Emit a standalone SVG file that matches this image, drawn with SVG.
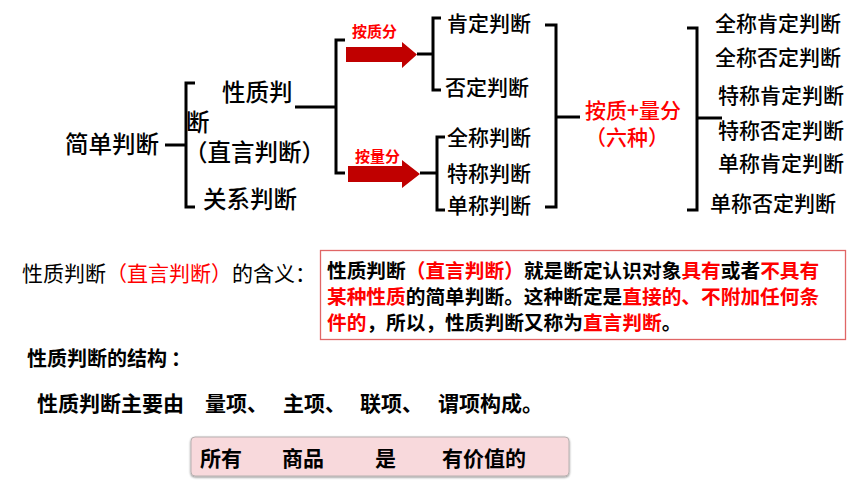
<svg xmlns="http://www.w3.org/2000/svg" width="860" height="484" viewBox="0 0 860 484">
<defs>
<style>
text{font-family:"Noto Sans CJK SC","Noto Sans",sans-serif;fill:#000}
.t{font-size:23.5px;font-weight:500}
.m{font-size:21px;font-weight:500}
.red{fill:#ff0000}
.b{font-weight:bold}
.lbl{font-size:15px;font-weight:bold;fill:#ff0000}
.ln{fill:none;stroke:#000;stroke-width:3;stroke-linecap:butt}
.arr{fill:#c00000}
</style>
<filter id="sh" x="-5%" y="-20%" width="110%" height="140%">
<feDropShadow dx="0" dy="1" stdDeviation="1" flood-color="#000" flood-opacity="0.45"/>
</filter>
</defs>
<rect width="860" height="484" fill="#fff"/>

<g id="connectors">
<line class="ln" x1="165" y1="145" x2="186" y2="145"/>
<path class="ln" d="M195,83 H186 V207 H195"/>
<line class="ln" x1="295" y1="107" x2="336" y2="107"/>
<path class="ln" d="M345,40 H336 V173 H345"/>
<polygon class="arr" points="346,47 402,47 402,42 417,54.5 402,68 402,62 346,62"/>
<polygon class="arr" points="348,166 402,166 402,160 420,174 402,188 402,182 348,182"/>
<line class="ln" x1="417" y1="54" x2="433" y2="54"/>
<path class="ln" d="M441,18 H433 V90 H441"/>
<line class="ln" x1="420" y1="173" x2="437" y2="173"/>
<path class="ln" d="M445,137 H437 V210 H445"/>
<path class="ln" d="M545,25 H556 V207 H545"/>
<line class="ln" x1="556" y1="117" x2="580" y2="117"/>
<path class="ln" d="M687,28 H697 V210 H687"/>
<line class="ln" x1="697" y1="118" x2="722" y2="118"/>
</g>

<g id="n-simple"><text class="t" x="65" y="153">简单判断</text></g>
<g id="n-property">
<text class="t" x="222" y="101">性质判</text>
<text class="t" x="186" y="131">断</text>
<text class="t" x="184" y="161">（直言判断）</text>
</g>
<g id="n-relation"><text class="t" x="203" y="208">关系判断</text></g>
<g id="lbl-quality"><text class="lbl" x="352" y="37">按质分</text></g>
<g id="lbl-quantity"><text class="lbl" x="355" y="162">按量分</text></g>
<g id="n-aff"><text class="m" x="447" y="31">肯定判断</text></g>
<g id="n-neg"><text class="m" x="445" y="95">否定判断</text></g>
<g id="n-univ"><text class="m" x="447" y="145">全称判断</text></g>
<g id="n-part"><text class="m" x="447" y="181">特称判断</text></g>
<g id="n-sing"><text class="m" x="447" y="213">单称判断</text></g>
<g id="n-six">
<text class="m red" x="585" y="118">按质+量分</text>
<text class="m red" x="627" y="145" text-anchor="middle">（六种）</text>
</g>
<g id="n-six-list">
<text class="m" x="715" y="31">全称肯定判断</text>
<text class="m" x="715" y="65">全称否定判断</text>
<text class="m" x="718" y="103">特称肯定判断</text>
<text class="m" x="718" y="138">特称否定判断</text>
<text class="m" x="718" y="171">单称肯定判断</text>
<text class="m" x="710" y="211">单称否定判断</text>
</g>

<g id="meaning">
<text x="22" y="281" style="font-size:21px">性质判断<tspan class="red">（直言判断）</tspan>的含义：</text>
<rect x="320.5" y="250.5" width="525" height="89" fill="#fff" stroke="#e06666" stroke-width="1.3"/>
<text class="b" x="327" y="278" style="font-size:19.7px">性质判断<tspan class="red">（直言判断）</tspan>就是断定认识对象<tspan class="red">具有</tspan>或者<tspan class="red">不具有</tspan></text>
<text class="b" x="327" y="304" style="font-size:19.7px"><tspan class="red">某种性质</tspan>的简单判断。这种断定是<tspan class="red">直接的、不附加任何条</tspan></text>
<text class="b" x="327" y="330" style="font-size:19.7px"><tspan class="red">件的</tspan>，所以，性质判断又称为<tspan class="red">直言判断</tspan>。</text>
</g>

<g id="structure">
<text class="b" x="27" y="366" style="font-size:20px">性质判断的结构<tspan dx="4">：</tspan></text>
<text class="b" style="font-size:21px" y="411"><tspan x="37">性质判断主要由</tspan><tspan x="205">量项、</tspan><tspan x="283">主项、</tspan><tspan x="360">联项、</tspan><tspan x="438">谓项构成。</tspan></text>
</g>

<g id="example">
<rect x="191" y="437" width="378" height="39" rx="4" fill="#f8d9dc" stroke="#b8b0b0" stroke-width="1" filter="url(#sh)"/>
<text class="b" style="font-size:21px" y="466"><tspan x="200">所有</tspan><tspan x="282">商品</tspan><tspan x="375">是</tspan><tspan x="442">有价值的</tspan></text>
</g>
</svg>
